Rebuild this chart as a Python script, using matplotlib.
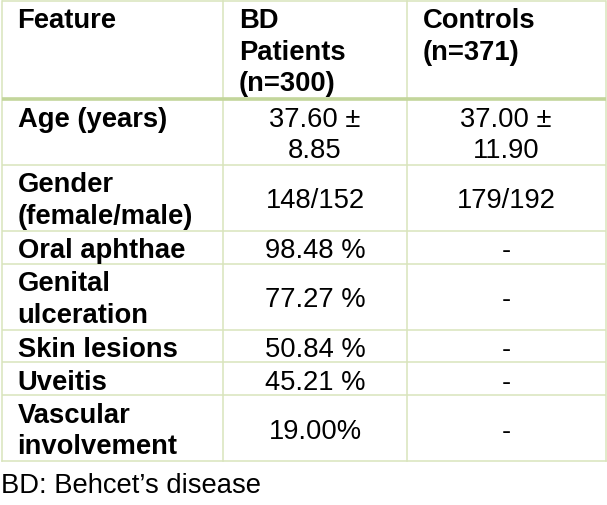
import matplotlib
matplotlib.use("Agg")
import matplotlib.pyplot as plt

# ---- data ----
headers = ["Feature", "BD\nPatients\n(n=300)", "Controls\n(n=371)"]
features = ["Age (years)", "Gender\n(female/male)", "Oral aphthae", "Genital\nulceration",
            "Skin lesions", "Uveitis", "Vascular\ninvolvement"]
bd_values = ["37.60 \u00b1\n8.85", "148/152", "98.48 %", "77.27 %", "50.84 %", "45.21 %", "19.00%"]
control_values = ["37.00 \u00b1\n11.90", "179/192", "-", "-", "-", "-", "-"]
footnote = "BD: Behcet\u2019s disease"

# ---- layout ----
W, H = 607, 506
fig = plt.figure(figsize=(W / 100, H / 100), dpi=100)
ax = fig.add_axes([0, 0, 1, 1])
ax.set_xlim(0, W)
ax.set_ylim(H, 0)
ax.axis("off")

col_x = [1.5, 223, 407, 605.5]
top = 1.5
line_pitch = 31.5
row_unit = 32.9
first_base = 26.5
fs = 19.7
font = "Liberation Sans"
thin_c = "#d8e4bc"
thick_c = "#c3d69b"

rows = [headers] + [[f, b, c] for f, b, c in zip(features, bd_values, control_values)]
tops = []
y = top
for r in rows:
    n = max(len(s.split("\n")) for s in r)
    tops.append((y, n))
    y += row_unit * n
bottom = y

for ri, (r, (ty, n)) in enumerate(zip(rows, tops)):
    for ci, s in enumerate(r):
        lines = s.split("\n")
        if ri == 0 or ci == 0:
            off = 0
            x = col_x[ci] + 16
            ha = "left"
            weight = "bold"
        else:
            off = (n - len(lines)) * line_pitch / 2
            x = (col_x[ci] + col_x[ci + 1]) / 2
            ha = "center"
            weight = "normal"
        for li, ln in enumerate(lines):
            ax.text(x, ty + first_base + off + li * line_pitch, ln, ha=ha, va="baseline",
                    fontsize=fs, fontweight=weight, family=font, color="black")

# grid lines
lw_thin = 1.1
for i, (ty, n) in enumerate(tops):
    if i == 1:
        continue
    ax.plot([col_x[0], col_x[-1]], [ty, ty], color=thin_c, lw=lw_thin, solid_capstyle="butt")
ax.plot([col_x[0], col_x[-1]], [bottom, bottom], color=thin_c, lw=lw_thin)
for cx in col_x:
    ax.plot([cx, cx], [top, bottom], color=thin_c, lw=lw_thin)
ax.plot([col_x[0], col_x[-1]], [tops[1][0], tops[1][0]], color=thick_c, lw=2.6,
        solid_capstyle="butt")

ax.text(1, 493, footnote, ha="left", va="baseline", fontsize=fs, family=font, color="black")

fig.savefig("out.png", dpi=100)
